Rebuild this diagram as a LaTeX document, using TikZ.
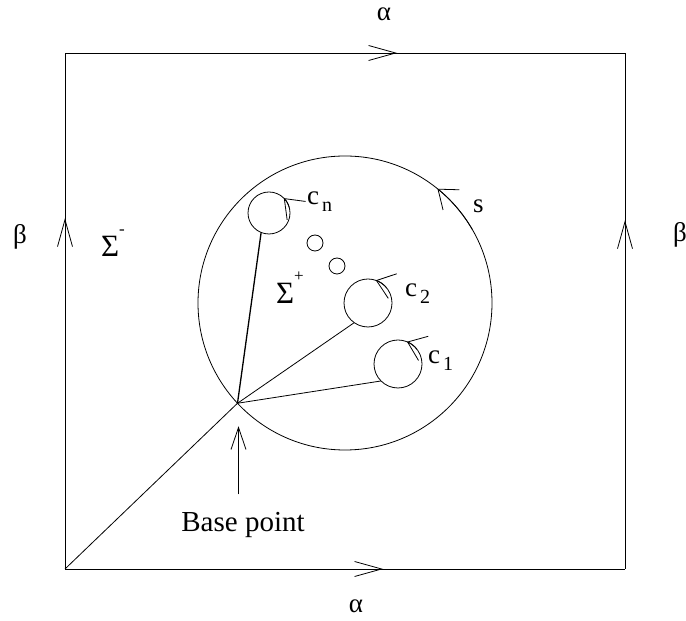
\documentclass[tikz,border=0pt]{standalone}
\usepackage{fontspec}
\setmainfont{Liberation Serif}
\usetikzlibrary{arrows.meta,calc,decorations.markings}
\newcommand\lowsub[1]{\hspace{3pt}\raisebox{-7pt}{\fontsize{20}{20}\selectfont #1}}
\newcommand\hisup[1]{\raisebox{22pt}{\fontsize{17}{17}\selectfont #1}}
\tikzset{
  rimline/.style={line width=0.8pt},
  hole/.style={draw,circle,inner sep=0pt,outer sep=0pt,line width=0.8pt},
  dot/.style={hole,minimum size=16pt},
  lbl/.style={font=\fontsize{27}{30}\selectfont,inner sep=0pt},
  sigma/.style={lbl,font=\fontsize{31}{34}\selectfont},
  barb/.style={rimline,-{Straight Barb[length=17pt,width=26pt]}},
  ptarrow/.style={rimline,-{Straight Barb[length=22pt,width=15pt]}},
  midbarb/.style={rimline,postaction={decorate},decoration={markings,
    mark=at position #1 with {\arrow{Straight Barb[length=27pt,width=15pt]}}}}
}

\begin{document}
\begin{tikzpicture}[x=1pt,y=1pt]
  \useasboundingbox (0,0) rectangle (686,621);
  % square with identified sides
  \coordinate (sw) at (65,52);
  \coordinate (se) at (625,52);
  \coordinate (ne) at (625,568);
  \coordinate (nw) at (65,568);
  \draw[midbarb=0.593] (nw) -- (ne);
  \draw[midbarb=0.568] (sw) -- (se);
  \draw[midbarb=0.68] (sw) -- (nw);
  \draw[midbarb=0.676] (se) -- (ne);
  \node[lbl] (atop) at (384,607) {α};
  \node[lbl] (abot) at (356,15) {α};
  \node[lbl] (bleft) at (20,384) {β};
  \node[lbl] (bright) at (680,386) {β};
  % disc and holes
  \node[hole,minimum size=294pt] (disc) at (345,318) {};
  \node[hole,minimum size=42pt] (cn) at (269,408) {};
  \node[dot] (d1) at (315,378) {};
  \node[dot] (d2) at (337,355) {};
  \node[hole,minimum size=48pt] (c2) at (368,318) {};
  \node[hole,minimum size=48pt] (c1) at (398,257) {};
  \coordinate (bp) at (disc.223);
  % orientations
  \draw[barb] (disc.30) arc[start angle=30,end angle=51,radius=147pt];
  \draw[barb] (cn.15) arc[start angle=15,end angle=45,radius=21pt];
  \draw[barb] (c2.40) arc[start angle=40,end angle=71,radius=24pt];
  \draw[barb] (c1.38) arc[start angle=38,end angle=68,radius=24pt];
  % cuts from the base point
  \draw[rimline,line width=1.3pt] (bp) -- (cn.248);
  \draw[rimline] (bp) -- (c2.235);
  \draw[rimline] (bp) -- (c1.225);
  \draw[rimline] (bp) -- (sw);
  % labels
  \node[sigma,anchor=base west] (lsm) at (101,364) {Σ\hisup{-}};
  \node[sigma,anchor=base west] (lsp) at (276,317) {Σ\hisup{+}};
  \node[lbl,anchor=base west] (lcn) at (307,416) {c\lowsub{n}};
  \node[lbl,anchor=base west] (lc2) at (405,324) {c\lowsub{2}};
  \node[lbl,anchor=base west] (lc1) at (428,257) {c\lowsub{1}};
  \node[lbl,anchor=base west] (ls) at (473,408) {s};
  \node[lbl,anchor=base,font=\fontsize{29}{32}\selectfont] (bplbl) at (243,89) {Base point};
  \draw[ptarrow] ($(bp)+(1,-91)$) -- ($(bp)+(1,-23)$);
\end{tikzpicture}
\end{document}
